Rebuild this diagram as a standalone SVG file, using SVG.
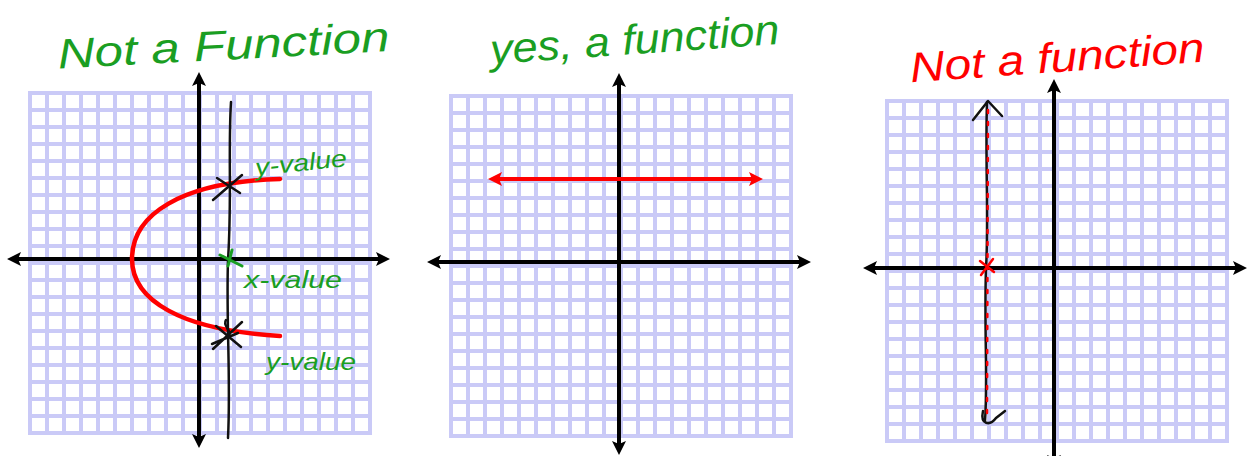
<svg xmlns="http://www.w3.org/2000/svg" width="1247" height="456" viewBox="0 0 1247 456">
  <style>
    .axis { stroke: #000; stroke-width: 4; fill: none; marker-start: url(#ah); marker-end: url(#ah); }
    .hand { stroke: #111; stroke-width: 2.5; fill: none; stroke-linecap: round; stroke-linejoin: round; }
    .red { stroke: #ff0000; fill: none; stroke-linecap: round; }
    .grn { stroke: #1a9e22; stroke-width: 3; fill: none; stroke-linecap: round; }
    .title { font-family: "Liberation Sans", Arial, sans-serif; font-style: italic; }
    .lbl { font-family: "Liberation Sans", Arial, sans-serif; font-style: italic; font-size: 24px; fill: #1a9e22; }
  </style>
  <defs>
    <pattern id="cells" width="17" height="17" patternUnits="userSpaceOnUse">
      <rect width="17" height="17" fill="#cacaf7"/>
      <rect x="4" y="4" width="13" height="13" fill="#ffffff"/>
    </pattern>
    <marker id="ah" viewBox="0 0 14 14" refX="7" refY="7" markerWidth="14" markerHeight="14" markerUnits="userSpaceOnUse" orient="auto-start-reverse">
      <path d="M0,0 L14,7 L0,14 L3,7 z" fill="#000"/>
    </marker>
    <marker id="rh" viewBox="0 0 14 14" refX="7" refY="7" markerWidth="14" markerHeight="14" markerUnits="userSpaceOnUse" orient="auto-start-reverse">
      <path d="M0,0 L14,7 L0,14 L3,7 z" fill="#ff0000"/>
    </marker>
  </defs>
  <rect width="1247" height="456" fill="#ffffff"/>

  <!-- Panel 1 -->
  <g id="panel1">
    <text class="title" x="58" y="60" font-size="42" fill="#1a9e22" textLength="332" lengthAdjust="spacingAndGlyphs" transform="rotate(-3 220 55)">Not a Function</text>
    <g transform="translate(28,91)"><rect width="344" height="344" fill="url(#cells)"/></g>
    <line class="axis" x1="199" y1="79" x2="199" y2="441"/>
    <line class="axis" x1="14" y1="259" x2="383" y2="259"/>
    <path d="M280,179 C180,182 132,215 132,259 C132,300 180,330 280,336" class="red" stroke-width="4.5"/>
    <path class="hand" d="M231,102 C228,150 232,200 228,260 C226,320 231,380 228,438"/>
    <path class="hand" d="M213,200 L242,175 M217,178 L240,193"/>
    <path class="hand" d="M213,349 L242,322 M216,326 L241,347 M226,320 C222,326 232,330 229,336 M212,344 L238,333"/>
    <path class="grn" d="M220,255 L242,266 M232,250 L228,266"/>
    <text class="lbl" x="255" y="171" textLength="92" lengthAdjust="spacingAndGlyphs" transform="rotate(-6 300 163)">y-value</text>
    <text class="lbl" x="244" y="288" textLength="98" lengthAdjust="spacingAndGlyphs">x-value</text>
    <text class="lbl" x="266" y="370" textLength="90" lengthAdjust="spacingAndGlyphs">y-value</text>
  </g>

  <!-- Panel 2 -->
  <g id="panel2">
    <text class="title" x="490" y="54" font-size="42" fill="#1a9e22" textLength="290" lengthAdjust="spacingAndGlyphs" transform="rotate(-4 635 45)">yes, a function</text>
    <g transform="translate(449,94)"><rect width="344" height="344" fill="url(#cells)"/></g>
    <line class="axis" x1="619" y1="80" x2="619" y2="448"/>
    <line class="axis" x1="434" y1="262" x2="804" y2="262"/>
    <line x1="495" y1="179" x2="756" y2="179" stroke="#ff0000" stroke-width="4" marker-start="url(#rh)" marker-end="url(#rh)"/>
  </g>

  <!-- Panel 3 -->
  <g id="panel3">
    <text class="title" x="910" y="72" font-size="42" fill="#ff0000" textLength="295" lengthAdjust="spacingAndGlyphs" transform="rotate(-4 1057 62)">Not a function</text>
    <g transform="translate(885,99)"><rect width="344" height="344" fill="url(#cells)"/></g>
    <line class="axis" x1="1054" y1="86" x2="1054" y2="462"/>
    <line class="axis" x1="870" y1="268" x2="1240" y2="268"/>
    <path class="hand" d="M987,102 C985,160 989,220 986,268 C984,330 988,380 985,421"/>
    <path class="hand" d="M973,120 L988,101 L1002,116"/>
    <path class="hand" d="M983,411 C980,425 990,426 996,418 L1005,411"/>
    <line x1="988" y1="110" x2="987" y2="418" class="red" stroke-width="2.5" stroke-dasharray="3 9"/>
    <path class="red" stroke-width="2.5" d="M980,261 L994,272 M993,259 L981,275"/>
  </g>
</svg>
